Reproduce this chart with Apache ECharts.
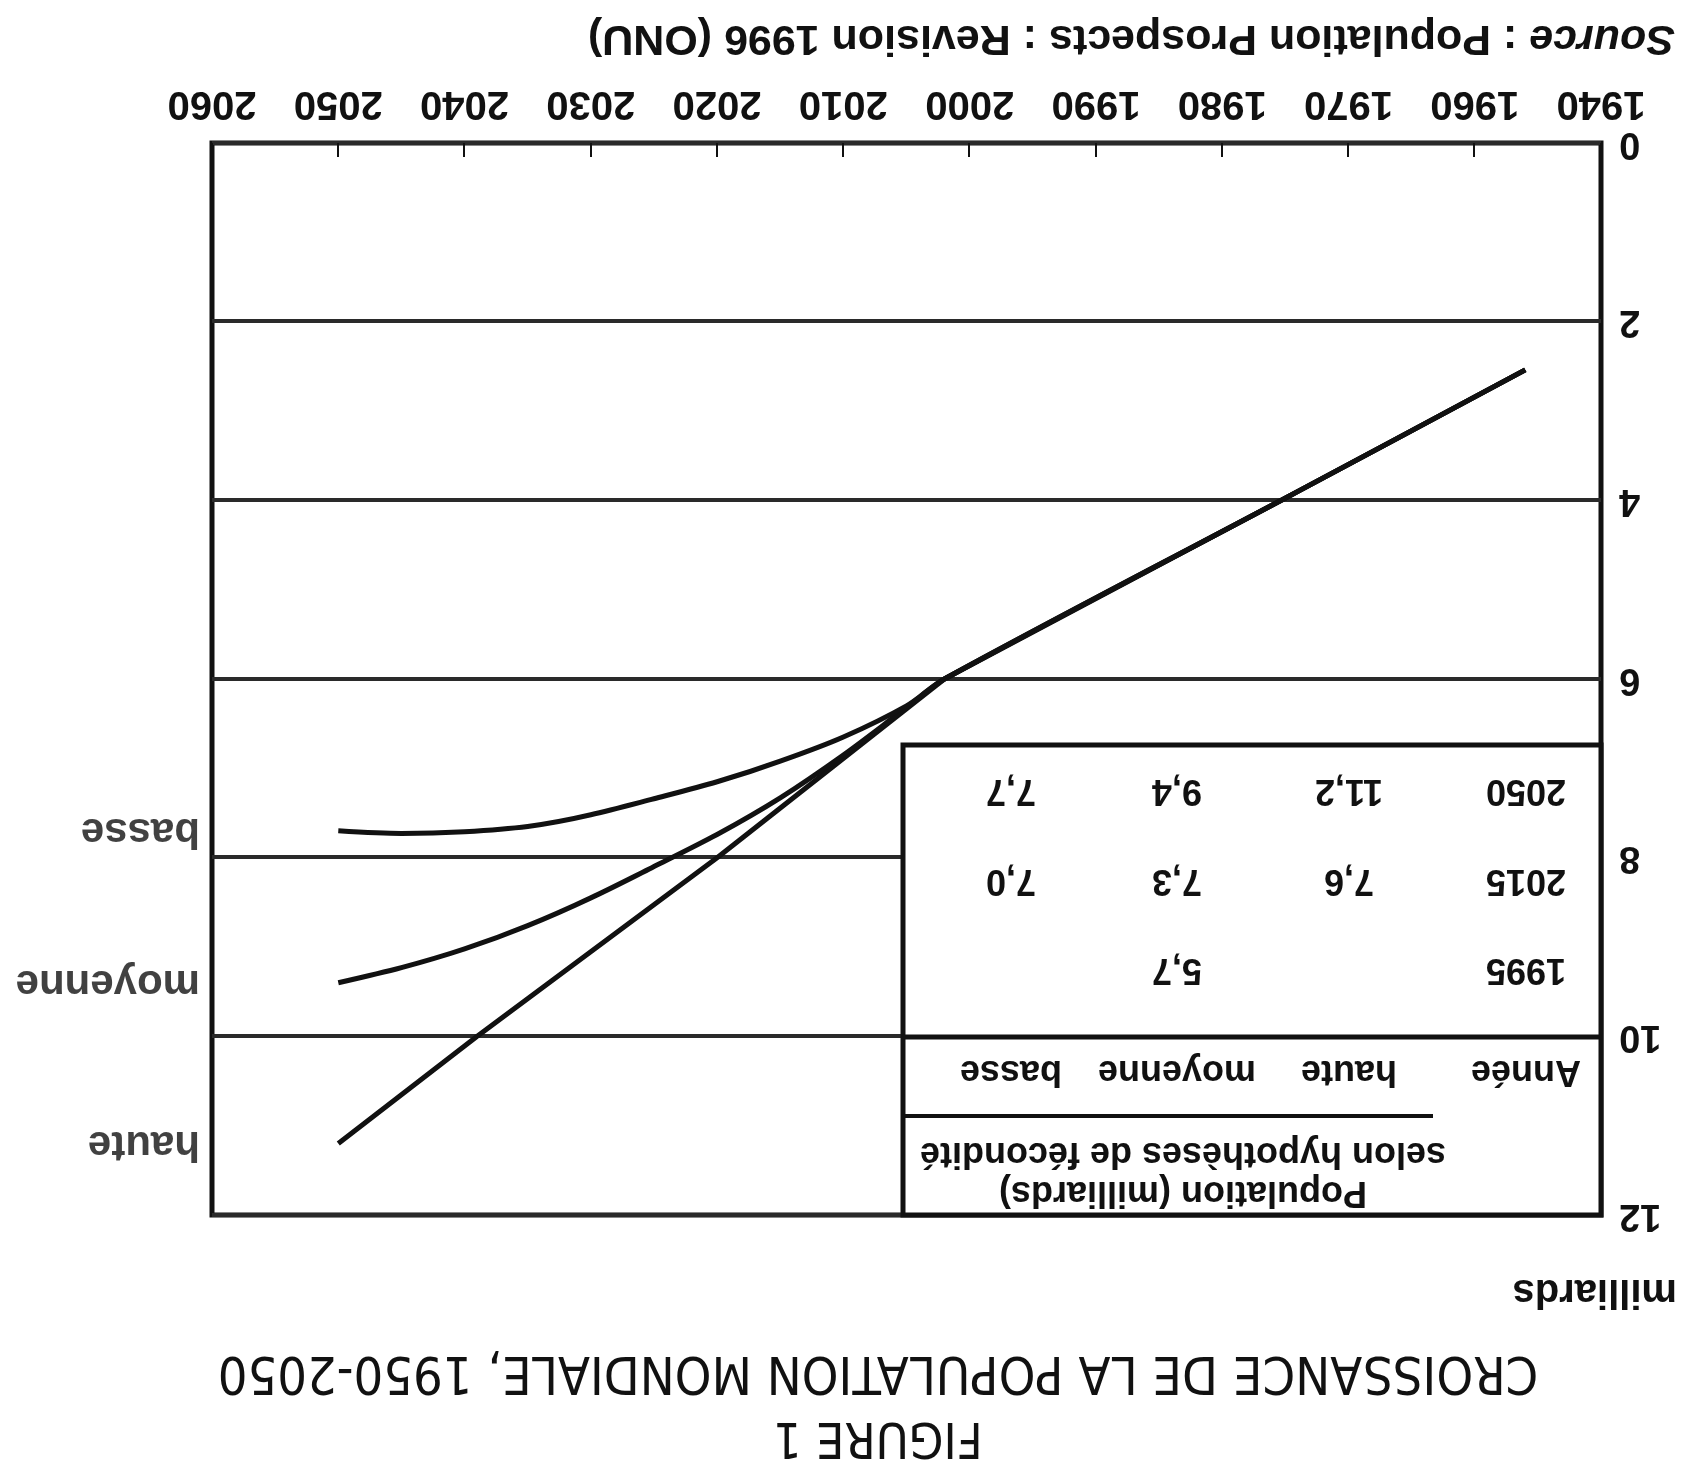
<!DOCTYPE html>
<html>
<head>
<meta charset="utf-8">
<script src="https://cdn.jsdelivr.net/npm/echarts@6/dist/echarts.min.js"></script>
<style>
html, body { margin: 0; padding: 0; background: #fff; overflow: hidden; }
/* the scanned figure is upside down, so the whole chart is turned round */
#chart { width: 1683px; height: 1469px; transform: rotate(180deg); }
</style>
</head>
<body>
<div id="chart"></div>
<script>
// population mondiale (milliards)
const hauteYears = [1956, 1974, 2002, 2020, 2039, 2050];
const hauteValues = [2.54, 3.9, 6.0, 8.0, 10.0, 11.2];
const moyenneYears = [1956, 1974, 2002, 2005, 2010, 2015, 2020, 2025, 2030, 2035, 2040, 2045, 2050];
const moyenneValues = [2.54, 3.9, 6.0, 6.32, 6.85, 7.33, 7.74, 8.1, 8.45, 8.76, 9.02, 9.23, 9.4];
const basseYears = [1956, 1974, 2002, 2005, 2010, 2015, 2020, 2025, 2030, 2035, 2040, 2045, 2050];
const basseValues = [2.54, 3.9, 6.0, 6.3, 6.65, 6.92, 7.15, 7.34, 7.52, 7.65, 7.71, 7.73, 7.7];
const lineNames = ['haute', 'moyenne', 'basse'];

// tick labels as printed (the figure skips 1950)
const xTickLabels = ['1940', '1960', '1970', '1980', '1990', '2000', '2010', '2020', '2030', '2040', '2050', '2060'];

// small table in the corner of the plot
const tableTitle = ['Population (milliards)', 'selon hypothèses de fécondité'];
const tableHeader = ['Année', 'haute', 'moyenne', 'basse'];
const tableYears = ['1995', '2015', '2050'];
const tableValues = [['', '5,7', ''], ['7,6', '7,3', '7,0'], ['11,2', '9,4', '7,7']];

const FONT = '"Liberation Sans", Arial, sans-serif';
const NARROW = '"Liberation Sans Narrow", "DejaVu Sans Condensed", "Liberation Sans", sans-serif';
const INK = '#111';

const gridLeft = 82, gridTop = 254, gridWidth = 1389, gridHeight = 1072;

const pair = (xs, ys) => xs.map((x, i) => [x, ys[i]]);
const last = arr => arr[arr.length - 1];

function lineSeries (name, xs, ys, smooth){
    return {
        name: name,
        type: 'line',
        data: pair(xs, ys),
        smooth: smooth,
        symbol: 'none',
        lineStyle: {color: INK, width: 5},
        z: 3
    };
}

function tableGraphic (){
    let els = [];
    let colX = [75, 252, 424, 590];
    let rowY = [246, 335, 425];
    let txt = (text, x, y) => ({
        type: 'text', x: gridLeft + x, y: gridTop + y, z: 20,
        style: {text: text, fill: INK, font: 'bold 36px ' + FONT, align: 'center', verticalAlign: 'middle'}
    });
    els.push({
        type: 'rect', z: 10,
        shape: {x: gridLeft, y: gridTop, width: 698, height: 470},
        style: {fill: '#fff', stroke: INK, lineWidth: 5}
    });
    els.push({type: 'line', z: 15, shape: {x1: gridLeft + 168, y1: gridTop + 99, x2: gridLeft + 698, y2: gridTop + 99}, style: {stroke: INK, lineWidth: 4}});
    els.push({type: 'line', z: 15, shape: {x1: gridLeft, y1: gridTop + 178, x2: gridLeft + 698, y2: gridTop + 178}, style: {stroke: INK, lineWidth: 5}});
    els.push(txt(tableTitle[0], 418, 23));
    els.push(txt(tableTitle[1], 418, 62));
    tableHeader.forEach((h, i) => els.push(txt(h, colX[i], 144)));
    tableYears.forEach((y, r) => {
        els.push(txt(y, colX[0], rowY[r]));
        tableValues[r].forEach((v, c) => { if (v) els.push(txt(v, colX[c + 1], rowY[r])); });
    });
    return els;
}

const chart = echarts.init(document.getElementById('chart'), null, {renderer: 'canvas'});
chart.setOption({
    backgroundColor: '#fff',
    animation: false,
    title: [
        {text: 'FIGURE 1', left: 805, top: 8, textAlign: 'center', padding: 0,
            textStyle: {fontSize: 50, fontWeight: 'normal', color: INK, fontFamily: NARROW}},
        {text: 'CROISSANCE DE LA POPULATION MONDIALE, 1950-2050', left: 805, top: 72, textAlign: 'center', padding: 0,
            textStyle: {fontSize: 52, fontWeight: 'normal', color: INK, fontFamily: NARROW}},
        {text: 'milliards', left: 6, top: 158, padding: 0,
            textStyle: {fontSize: 40, fontWeight: 'bold', color: INK, fontFamily: FONT}},
        {text: '{i|Source} : Population Prospects : Revision 1996 (ONU)', left: 8, top: 1410, padding: 0,
            textStyle: {fontSize: 43, fontWeight: 'bold', color: INK, fontFamily: FONT,
                rich: {i: {fontSize: 43, fontWeight: 'bold', fontStyle: 'italic', color: INK, fontFamily: FONT}}}}
    ],
    grid: {
        left: gridLeft, top: gridTop, width: gridWidth, height: gridHeight,
        show: true, borderColor: INK, borderWidth: 5, backgroundColor: 'transparent'
    },
    xAxis: {
        type: 'value',
        min: 1950, max: 2060, interval: 10,
        axisLine: {show: false},
        axisTick: {show: true, inside: true, length: 14, lineStyle: {color: INK, width: 2}},
        splitLine: {show: false},
        axisLabel: {
            margin: 20, fontSize: 40, fontWeight: 'bold', color: INK, fontFamily: FONT,
            formatter: (v, i) => xTickLabels[i]
        }
    },
    yAxis: {
        type: 'value',
        min: 0, max: 12, interval: 2,
        axisLine: {show: false},
        axisTick: {show: false},
        splitLine: {show: true, lineStyle: {color: '#2a2a2a', width: 4}},
        axisLabel: {margin: 18, fontSize: 38, fontWeight: 'bold', color: INK, fontFamily: FONT, padding: [0, 0, 20, 0]}
    },
    series: [
        lineSeries('haute', hauteYears, hauteValues, false),
        lineSeries('moyenne', moyenneYears, moyenneValues, 0.3),
        lineSeries('basse', basseYears, basseValues, 0.3),
        {
            type: 'scatter',
            symbolSize: 0,
            clip: false,
            silent: true,
            data: [last(hauteValues), last(moyenneValues), last(basseValues)].map((v, i) => ({
                value: [2060, v], name: lineNames[i]
            })),
            label: {
                show: true, position: 'right', distance: 12,
                formatter: p => p.name,
                fontSize: 42, fontWeight: 'bold', color: INK, fontFamily: FONT
            }
        }
    ],
    graphic: tableGraphic()
});
</script>
</body>
</html>
